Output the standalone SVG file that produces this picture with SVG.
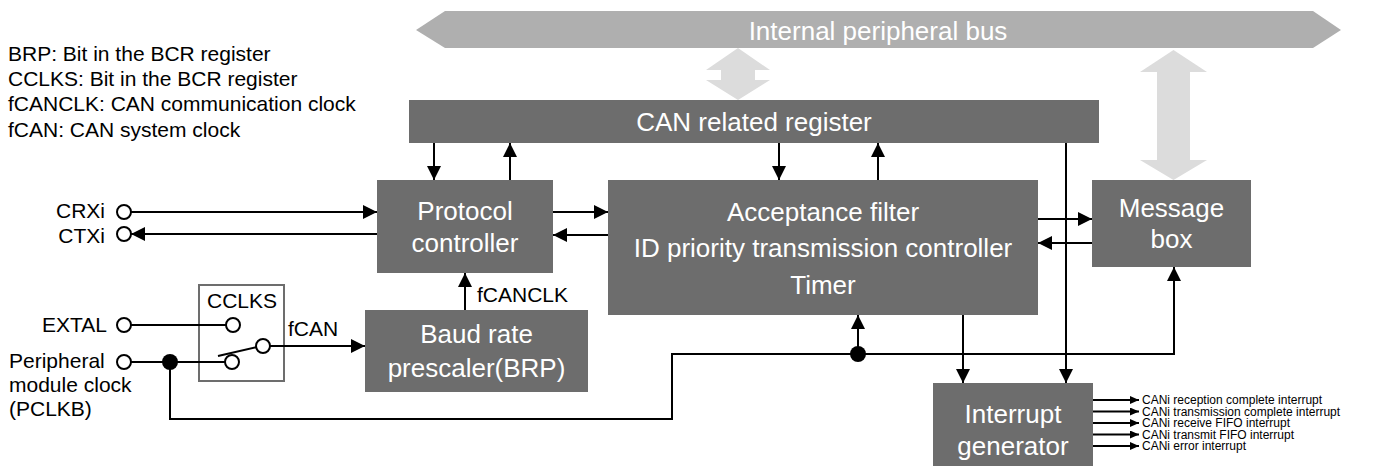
<svg xmlns="http://www.w3.org/2000/svg" width="1379" height="466" viewBox="0 0 1379 466">
<style>
.box{fill:#6d6d6d}
.bt{fill:#fff;font-family:"Liberation Sans",Arial,sans-serif;font-size:26px;text-anchor:middle}
.lt{fill:#000;font-family:"Liberation Sans",Arial,sans-serif;font-size:21px}
.st{fill:#000;font-family:"Liberation Sans",Arial,sans-serif;font-size:12px}
.ln{stroke:#000;stroke-width:2;fill:none}
.arr{marker-end:url(#ah)}
.sarr{marker-end:url(#sah)}
.pin{fill:#fff;stroke:#000;stroke-width:2}
.dot{fill:#000}
</style>
<defs>
<marker id="ah" markerUnits="userSpaceOnUse" markerWidth="14" markerHeight="14" refX="14" refY="7" orient="auto">
<path d="M0,0 L14,7 L0,14 z" fill="#000"/>
</marker>
<marker id="sah" markerUnits="userSpaceOnUse" markerWidth="9" markerHeight="8" refX="9" refY="4" orient="auto">
<path d="M0,0 L9,4 L0,8 z" fill="#000"/>
</marker>
</defs>
<rect width="1379" height="466" fill="#fff"/>

<g id="legend">
<text class="lt" x="8" y="61">BRP: Bit in the BCR register</text>
<text class="lt" x="8" y="86">CCLKS: Bit in the BCR register</text>
<text class="lt" x="8" y="111">fCANCLK: CAN communication clock</text>
<text class="lt" x="8" y="137">fCAN: CAN system clock</text>
</g>

<g id="bus">
<polygon points="416,30 445,11 1313,11 1341,30 1313,48 445,48" fill="#afafaf"/>
<text class="bt" x="878" y="40">Internal peripheral bus</text>
</g>

<g id="bus-arrows">
<polygon points="738,48 770,70 755,70 755,80 770,80 738,100 706,80 721,80 721,70 706,70" fill="#dcdcdc"/>
<polygon points="1173.5,50 1207,72 1190,72 1190,160 1207,160 1173.5,180 1140,160 1157,160 1157,72 1140,72" fill="#dcdcdc"/>
</g>

<g id="register">
<rect class="box" x="409" y="100" width="690" height="43"/>
<text class="bt" x="754" y="131">CAN related register</text>
</g>

<g id="protocol">
<rect class="box" x="377" y="180" width="176" height="93"/>
<text class="bt" x="465" y="220">Protocol</text>
<text class="bt" x="465" y="252">controller</text>
</g>

<g id="acceptance">
<rect class="box" x="608" y="180" width="430" height="135"/>
<text class="bt" x="823" y="221">Acceptance filter</text>
<text class="bt" x="823" y="257">ID priority transmission controller</text>
<text class="bt" x="823" y="294">Timer</text>
</g>

<g id="message">
<rect class="box" x="1092" y="180" width="159" height="87"/>
<text class="bt" x="1171.5" y="217">Message</text>
<text class="bt" x="1171.5" y="248">box</text>
</g>

<g id="baud">
<rect class="box" x="365" y="310" width="223" height="82"/>
<text class="bt" x="476.5" y="343">Baud rate</text>
<text class="bt" x="476.5" y="377">prescaler(BRP)</text>
</g>

<g id="interrupt">
<rect class="box" x="933" y="383" width="160" height="83"/>
<text class="bt" x="1013" y="423">Interrupt</text>
<text class="bt" x="1013" y="455">generator</text>
</g>

<g id="pins">
<text class="lt" x="105" y="218" text-anchor="end">CRXi</text>
<circle class="pin" cx="124" cy="212" r="7"/>
<text class="lt" x="105" y="243" text-anchor="end">CTXi</text>
<circle class="pin" cx="124" cy="234" r="7"/>
<text class="lt" x="107" y="332" text-anchor="end">EXTAL</text>
<circle class="pin" cx="124" cy="325" r="7"/>
<text class="lt" x="9" y="368">Peripheral</text>
<text class="lt" x="9" y="392">module clock</text>
<text class="lt" x="9" y="416">(PCLKB)</text>
<circle class="pin" cx="124" cy="362" r="7"/>
</g>

<g id="switch">
<rect x="199" y="285" width="85" height="96" fill="none" stroke="#6d6d6d" stroke-width="2"/>
<text class="lt" x="242" y="308" text-anchor="middle">CCLKS</text>
<line class="ln" x1="218" y1="356" x2="257" y2="347"/>
<circle class="pin" cx="233" cy="325" r="7"/>
<circle class="pin" cx="232" cy="362" r="7"/>
<circle class="pin" cx="263" cy="346" r="7"/>
</g>

<g id="connectors">
<line class="ln arr" x1="131" y1="212" x2="377" y2="212"/>
<line class="ln arr" x1="377" y1="234" x2="131" y2="234"/>
<line class="ln" x1="131" y1="325" x2="226" y2="325"/>
<line class="ln" x1="131" y1="362" x2="225" y2="362"/>
<circle class="dot" cx="170" cy="362" r="8"/>
<line class="ln arr" x1="270" y1="346" x2="365" y2="346"/>
<text class="lt" x="288" y="336">fCAN</text>
<line class="ln arr" x1="465" y1="310" x2="465" y2="273"/>
<text class="lt" x="477" y="302">fCANCLK</text>
<line class="ln arr" x1="434" y1="143" x2="434" y2="180"/>
<line class="ln arr" x1="510" y1="180" x2="510" y2="143"/>
<line class="ln arr" x1="779" y1="143" x2="779" y2="180"/>
<line class="ln arr" x1="878" y1="180" x2="878" y2="143"/>
<line class="ln arr" x1="553" y1="212" x2="608" y2="212"/>
<line class="ln arr" x1="608" y1="235" x2="553" y2="235"/>
<line class="ln arr" x1="1038" y1="219" x2="1092" y2="219"/>
<line class="ln arr" x1="1092" y1="243" x2="1038" y2="243"/>
<line class="ln arr" x1="1066" y1="143" x2="1066" y2="383"/>
<line class="ln arr" x1="963" y1="315" x2="963" y2="383"/>
<polyline class="ln" points="170,362 170,419 672,419 672,354 1174,354"/>
<line class="ln arr" x1="1174" y1="355" x2="1174" y2="267"/>
<circle class="dot" cx="858" cy="354" r="8"/>
<line class="ln arr" x1="858" y1="354" x2="858" y2="315"/>
<line class="ln sarr" x1="1093" y1="400" x2="1139" y2="400"/>
<line class="ln sarr" x1="1093" y1="411.5" x2="1139" y2="411.5"/>
<line class="ln sarr" x1="1093" y1="423" x2="1139" y2="423"/>
<line class="ln sarr" x1="1093" y1="434.5" x2="1139" y2="434.5"/>
<line class="ln sarr" x1="1093" y1="446" x2="1139" y2="446"/>
</g>

<g id="outputs">
<text class="st" x="1142" y="404">CANi reception complete interrupt</text>
<text class="st" x="1142" y="415.5">CANi transmission complete interrupt</text>
<text class="st" x="1142" y="427">CANi receive FIFO interrupt</text>
<text class="st" x="1142" y="438.5">CANi transmit FIFO interrupt</text>
<text class="st" x="1142" y="450">CANi error interrupt</text>
</g>
</svg>
